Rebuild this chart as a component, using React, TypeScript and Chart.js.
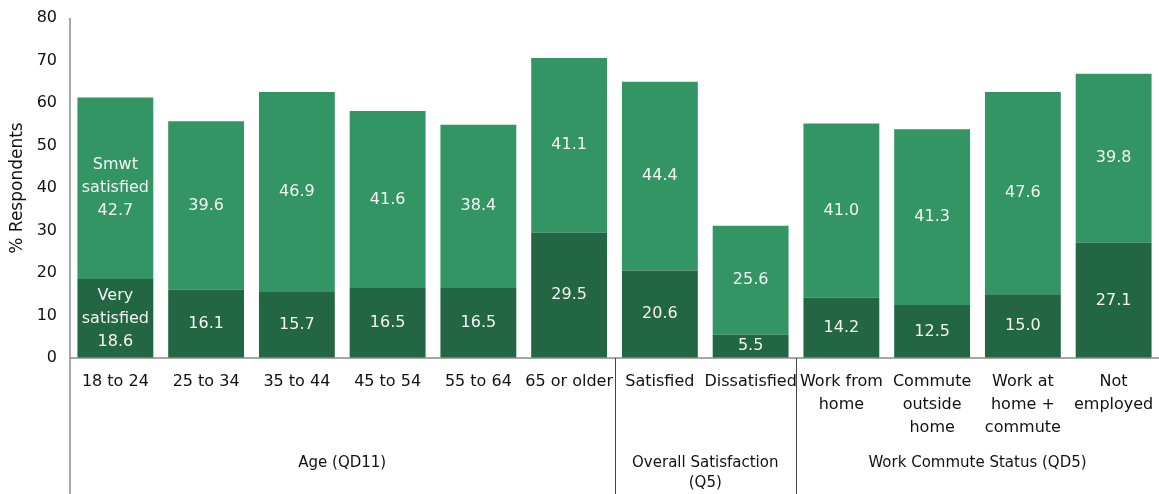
import React, { useEffect, useRef } from "react";
import { Chart, registerables } from "chart.js";

Chart.register(...registerables);

const categories: string[][] = [
  ["18 to 24"],
  ["25 to 34"],
  ["35 to 44"],
  ["45 to 54"],
  ["55 to 64"],
  ["65 or older"],
  ["Satisfied"],
  ["Dissatisfied"],
  ["Work from", "home"],
  ["Commute", "outside", "home"],
  ["Work at", "home +", "commute"],
  ["Not", "employed"],
];

const verySatisfied = [18.6, 16.1, 15.7, 16.5, 16.5, 29.5, 20.6, 5.5, 14.2, 12.5, 15.0, 27.1];
const smwtSatisfied = [42.7, 39.6, 46.9, 41.6, 38.4, 41.1, 44.4, 25.6, 41.0, 41.3, 47.6, 39.8];

const seriesNames: string[][] = [["Very", "satisfied"], ["Smwt", "satisfied"]];

const groupLabels: string[][] = [["Age (QD11)"], ["Overall Satisfaction", "(Q5)"], ["Work Commute Status (QD5)"]];
const groupSizes = [6, 2, 4];

const yTicks = [0, 10, 20, 30, 40, 50, 60, 70, 80];

const FONT = "'DejaVu Sans', sans-serif";
const DARK = "#236644";
const LIGHT = "#339564";

const customPlugin = {
  id: "custom",
  afterDatasetsDraw(chart: any) {
    const ctx = chart.ctx;
    ctx.save();
    ctx.fillStyle = "#f4f4f4";
    ctx.font = `16px ${FONT}`;
    ctx.textAlign = "center";
    ctx.textBaseline = "middle";
    const lh = 23;
    chart.data.datasets.forEach((ds: any, di: number) => {
      const meta = chart.getDatasetMeta(di);
      meta.data.forEach((bar: any, i: number) => {
        const v = ds.data[i] as number;
        const lines = i === 0 ? [...seriesNames[di], v.toFixed(1)] : [v.toFixed(1)];
        const cy = (bar.y + bar.base) / 2;
        const start = cy - ((lines.length - 1) * lh) / 2;
        lines.forEach((t, k) => ctx.fillText(t, bar.x, start + k * lh));
      });
    });
    ctx.restore();
  },
  afterDraw(chart: any) {
    const ctx = chart.ctx;
    const area = chart.chartArea;
    const xs = chart.scales.x;
    const H = chart.height;
    ctx.save();
    ctx.strokeStyle = "#8a8a8a";
    ctx.lineWidth = 1.5;
    ctx.beginPath();
    ctx.moveTo(area.left, area.top);
    ctx.lineTo(area.left, H);
    ctx.moveTo(area.left, area.bottom);
    ctx.lineTo(chart.width, area.bottom);
    ctx.stroke();
    const n = categories.length;
    const half = (xs.getPixelForValue(1) - xs.getPixelForValue(0)) / 2;
    let idx = 0;
    ctx.font = `15px ${FONT}`;
    ctx.fillStyle = "#111";
    ctx.textAlign = "center";
    ctx.textBaseline = "middle";
    groupSizes.forEach((size, g) => {
      const left = xs.getPixelForValue(idx) - half;
      const right = xs.getPixelForValue(idx + size - 1) + half;
      const cx = (left + right) / 2;
      groupLabels[g].forEach((t, k) => ctx.fillText(t, cx, area.bottom + 105 + k * 20));
      idx += size;
      if (idx < n) {
        ctx.strokeStyle = "#444";
        ctx.lineWidth = 1;
        ctx.beginPath();
        ctx.moveTo(Math.round(right) + 0.5, area.bottom);
        ctx.lineTo(Math.round(right) + 0.5, H);
        ctx.stroke();
      }
    });
    ctx.restore();
  },
};

export default function App() {
  const ref = useRef<HTMLCanvasElement>(null);
  useEffect(() => {
    if (!ref.current) return;
    const chart = new Chart(ref.current, {
      type: "bar",
      data: {
        labels: categories,
        datasets: [
          {
            label: seriesNames[0].join(" "),
            data: verySatisfied,
            backgroundColor: DARK,
            borderWidth: 0,
            barPercentage: 0.836,
            categoryPercentage: 1,
          },
          {
            label: seriesNames[1].join(" "),
            data: smwtSatisfied,
            backgroundColor: LIGHT,
            borderWidth: 0,
            barPercentage: 0.836,
            categoryPercentage: 1,
          },
        ],
      },
      options: {
        animation: false,
        responsive: false,
        devicePixelRatio: 1,
        layout: { padding: { top: 18, right: -2, left: 0, bottom: 0 } },
        plugins: {
          legend: { display: false },
          tooltip: { enabled: false },
        },
        scales: {
          x: {
            stacked: true,
            grid: { display: false, drawTicks: false },
            border: { display: false },
            ticks: {
              autoSkip: false,
              maxRotation: 0,
              minRotation: 0,
              padding: 12,
              color: "#111",
              font: { family: FONT, size: 16, lineHeight: 1.45 },
            },
            afterFit: (s: any) => {
              s.height = 136;
              s.paddingLeft = 0;
              s.paddingRight = 0;
            },
          },
          y: {
            stacked: true,
            min: 0,
            max: 80,
            afterBuildTicks: (s: any) => {
              s.ticks = yTicks.map((v) => ({ value: v }));
            },
            grid: { display: false, drawTicks: false },
            border: { display: false },
            ticks: {
              padding: 13,
              color: "#111",
              font: { family: FONT, size: 16 },
            },
            title: {
              display: true,
              text: "% Respondents",
              color: "#111",
              font: { family: FONT, size: 17 },
              padding: { top: 7, bottom: 0 },
            },
            afterFit: (s: any) => {
              s.width = 70;
              s.paddingTop = 0;
              s.paddingBottom = 0;
            },
          },
        },
      },
      plugins: [customPlugin],
    });
    return () => chart.destroy();
  }, []);
  return (
    <div style={{ position: "fixed", left: 0, top: 0, width: 1159, height: 494, background: "#fff" }}>
      <canvas ref={ref} width={1159} height={494} />
    </div>
  );
}
